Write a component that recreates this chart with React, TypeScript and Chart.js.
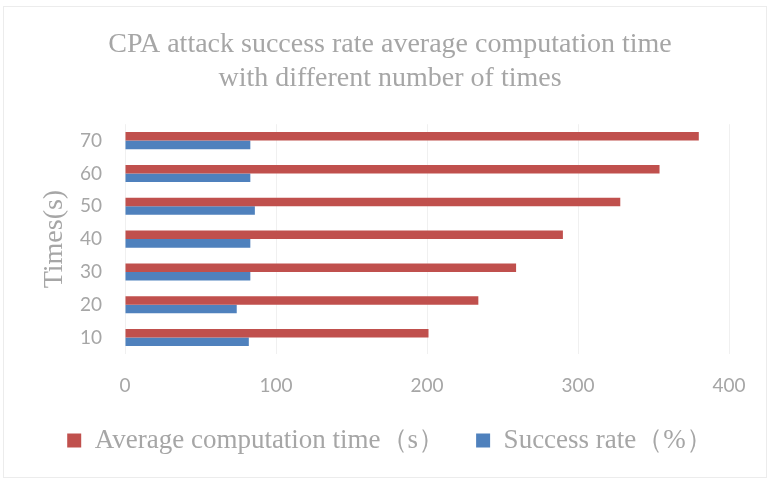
import React, { useEffect, useRef } from "react";
import { Chart, registerables } from "chart.js";

Chart.register(...registerables);

const categories = ["10", "20", "30", "40", "50", "60", "70"];
const avgTime = [201, 234, 259, 290, 328, 354, 380];
const successRate = [82, 74, 83, 83, 86, 83, 83];
const xTicks = [0, 100, 200, 300, 400];
const titleLines = [
  "CPA attack success rate average computation time",
  "with different number of times",
];
const seriesNames = ["Average computation time（s）", "Success rate（%）"];

const SERIF = "'Liberation Serif', 'Times New Roman', serif";
const SANS = "Lato, 'Noto Sans', sans-serif";
const GRAY = "#a6a6a6";

const framePlugin = {
  id: "frame",
  beforeDraw(chart: any) {
    const { ctx, width, height } = chart;
    ctx.save();
    ctx.fillStyle = "#ffffff";
    ctx.fillRect(0, 0, width, height);
    ctx.strokeStyle = "#ececec";
    ctx.lineWidth = 1;
    ctx.strokeRect(3.5, 6.5, width - 5, height - 8);
    ctx.restore();
  },
};

export default function App() {
  const ref = useRef<HTMLCanvasElement | null>(null);

  useEffect(() => {
    if (!ref.current) return;
    const labels = [...categories].reverse();
    const chart = new Chart(ref.current, {
      type: "bar",
      data: {
        labels,
        datasets: [
          {
            label: seriesNames[0],
            data: [...avgTime].reverse(),
            backgroundColor: "#C0504D",
            borderWidth: 0,
            categoryPercentage: 0.52,
            barPercentage: 1,
          },
          {
            label: seriesNames[1],
            data: [...successRate].reverse(),
            backgroundColor: "#4F81BD",
            borderWidth: 0,
            categoryPercentage: 0.52,
            barPercentage: 1,
          },
        ],
      },
      options: {
        indexAxis: "y",
        responsive: false,
        animation: false,
        layout: { padding: { left: 12, right: 0, top: 0, bottom: 15 } },
        plugins: {
          title: {
            display: true,
            text: titleLines,
            color: GRAY,
            font: { family: SERIF, size: 28, weight: "normal", lineHeight: 1.2 },
            padding: { top: 28, bottom: 29 },
          },
          legend: {
            display: true,
            position: "bottom",
            labels: {
              color: GRAY,
              boxWidth: 14,
              boxHeight: 14,
              padding: 31,
              font: { family: SERIF, size: 27, weight: "normal" },
            },
          },
          tooltip: { enabled: false },
        },
        scales: {
          x: {
            min: 0,
            max: 400,
            afterBuildTicks(scale: any) {
              scale.ticks = xTicks.map((v) => ({ value: v }));
            },
            afterFit(scale: any) {
              scale.height = 42;
            },
            grid: { color: "#f0f0f0", drawTicks: false },
            border: { display: false },
            ticks: {
              color: GRAY,
              font: { family: SANS, size: 19 },
              padding: 20,
            },
          },
          y: {
            afterFit(scale: any) {
              scale.width = 113;
            },
            grid: { display: false, drawTicks: false },
            border: { display: false },
            ticks: {
              color: GRAY,
              font: { family: SANS, size: 19 },
              padding: 23,
            },
            title: {
              display: true,
              text: "Times(s)",
              color: GRAY,
              font: { family: SERIF, size: 28, weight: "normal", lineHeight: 1.2 },
              padding: { top: 26, bottom: 0 },
            },
          },
          yRight: {
            type: "linear",
            axis: "y",
            position: "right",
            display: true,
            grid: { display: false, drawTicks: false },
            border: { display: false },
            ticks: { display: false },
            afterFit(scale: any) {
              scale.width = 39;
            },
          },
        },
      },
      plugins: [framePlugin],
    });
    return () => chart.destroy();
  }, []);

  return (
    <canvas
      ref={ref}
      width={768}
      height={479}
      style={{ position: "fixed", left: 0, top: 0, width: 768, height: 479 }}
    />
  );
}
